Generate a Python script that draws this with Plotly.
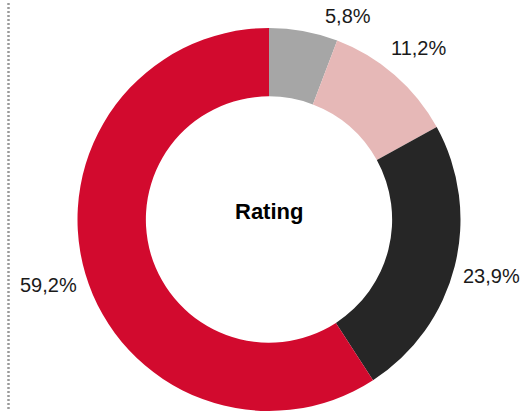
import math
import plotly.graph_objects as go

categories = ["A", "B", "C", "D"]
values = [5.8, 11.2, 23.9, 59.2]
labels = ["5,8%", "11,2%", "23,9%", "59,2%"]
colors = ["#A6A6A6", "#E6B8B7", "#262626", "#D20A2E"]
center_title = "Rating"

W, H = 524, 411
FONT = "Arial, 'Liberation Sans', sans-serif"
LABEL_SIZE = 20

# pie geometry (pixels)
cx, R = 269.0, 191.5
dom_y = [0.0, 2 * R / H]
cy = H - R
dom_x = [(cx - R) / W, (cx + R) / W]

fig = go.Figure()
fig.add_trace(go.Pie(
    labels=categories, values=values, hole=0.643, sort=False,
    direction="clockwise", rotation=0,
    marker=dict(colors=colors, line=dict(width=0)),
    textinfo="none", hoverinfo="label+value", showlegend=False,
    domain=dict(x=dom_x, y=dom_y),
))


def min_dist(bx, by, w, h):
    nx = min(max(cx, bx - w / 2), bx + w / 2)
    ny = min(max(cy, by - h / 2), by + h / 2)
    return math.hypot(nx - cx, ny - cy)


# outside labels computed from the slice mid-angles
char_w = {",": 0.278, "%": 0.889}
total = sum(values)
gap = 8
cum = 0.0
annotations = []
for v, t in zip(values, labels):
    mid = (cum + v / 2) / total * 2 * math.pi
    cum += v
    ux, uy = math.sin(mid), -math.cos(mid)
    w = sum(char_w.get(c, 0.556) for c in t) * LABEL_SIZE
    h = LABEL_SIZE + 4
    d = R + gap + abs(ux) * w / 2 + abs(uy) * h / 2
    px, py = cx + ux * d, cy + uy * d
    # keep the label inside the figure, then slide it sideways clear of the ring
    py = min(max(py, h / 2 + 4), H - h / 2 - 4)
    step = 1 if ux >= 0 else -1
    while min_dist(px, py, w, h) < R + gap:
        px += step
    annotations.append(dict(
        x=px / W, y=1 - py / H, xref="paper", yref="paper",
        text=t, showarrow=False, xanchor="center", yanchor="middle",
        font=dict(family=FONT, size=LABEL_SIZE, color="#1a1a1a"),
    ))

annotations.append(dict(
    x=cx / W, y=1 - (cy - 8) / H, xref="paper", yref="paper",
    text="<b>" + center_title + "</b>", showarrow=False,
    xanchor="center", yanchor="middle",
    font=dict(family=FONT, size=22, color="#000000"),
))

fig.update_layout(
    width=W, height=H,
    margin=dict(l=0, r=0, t=0, b=0),
    paper_bgcolor="white", plot_bgcolor="white",
    annotations=annotations,
    shapes=[dict(
        type="line", xref="paper", yref="paper",
        x0=8.5 / W, x1=8.5 / W, y0=1 - 3 / H, y1=1 - 409 / H,
        line=dict(color="#9A9A9A", width=2.5, dash="2px,2px"),
    )],
)

fig.write_html(
    "out.html",
    config={"displayModeBar": False},
    post_script="document.body.style.margin='0';document.body.style.padding='0';document.body.style.overflow='hidden';",
)
